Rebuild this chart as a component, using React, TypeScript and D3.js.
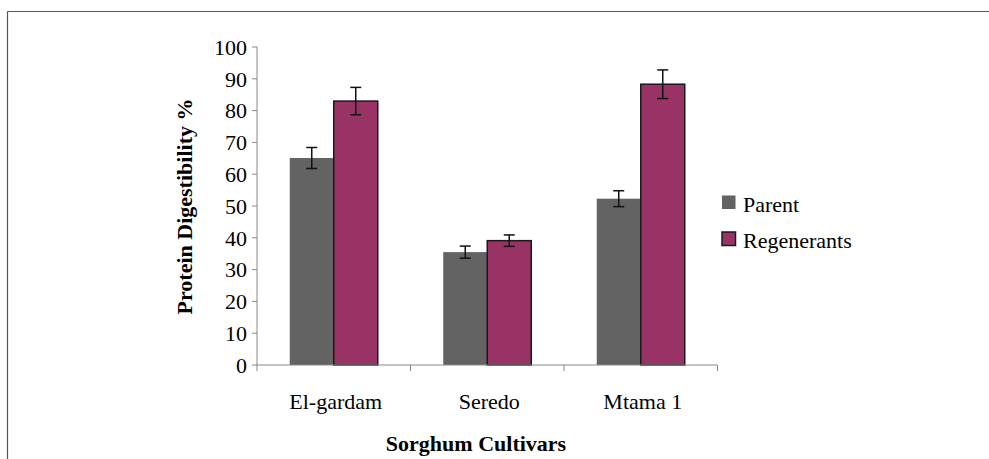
import * as d3 from "d3";

const cultivars = ["El-gardam", "Seredo", "Mtama 1"];
const seriesNames = ["Parent", "Regenerants"];
const parentValues = [65.1, 35.5, 52.3];
const parentErrors = [3.3, 1.9, 2.5];
const regenValues = [83.0, 39.1, 88.3];
const regenErrors = [4.3, 1.8, 4.5];
const yTicks = [0, 10, 20, 30, 40, 50, 60, 70, 80, 90, 100];

const colors = ["#636363", "#993366"];
const font = "'Liberation Serif', 'Times New Roman', serif";

const App = () => {
  const width = 989;
  const height = 459;
  const left = 257;
  const right = 717.5;
  const top = 47;
  const bottom = 365;

  const x = d3.scaleBand<string>().domain(cultivars).range([left, right]).padding(0);
  const xs = d3
    .scaleBand<string>()
    .domain(seriesNames)
    .range([0, x.bandwidth()])
    .paddingInner(0)
    .paddingOuter(0.744);
  const y = d3.scaleLinear().domain([0, 100]).range([bottom, top]);

  const series = [
    { name: seriesNames[0], values: parentValues, errors: parentErrors },
    { name: seriesNames[1], values: regenValues, errors: regenErrors },
  ];

  const boundaries = [...cultivars.map((c) => x(c) as number), right];
  const cap = 5.5;

  return (
    <svg
      width={width}
      height={height}
      style={{ position: "absolute", left: 0, top: 0, background: "#fff", fontFamily: font }}
    >
      {/* frame */}
      <line x1={7.5} x2={width} y1={11.5} y2={11.5} stroke="#555" strokeWidth={1.2} />
      <line x1={7.5} x2={7.5} y1={11.5} y2={height} stroke="#555" strokeWidth={1.2} />

      {/* y axis */}
      <line x1={left} x2={left} y1={top} y2={bottom} stroke="#888" />
      {yTicks.map((t) => (
        <g key={t}>
          <line x1={left - 5} x2={left} y1={y(t)} y2={y(t)} stroke="#888" />
          <text x={left - 10} y={y(t)} dy="0.35em" textAnchor="end" fontSize={22}>
            {t}
          </text>
        </g>
      ))}

      {/* bars */}
      {series.map((s, si) =>
        cultivars.map((c, ci) => {
          const bx = (x(c) as number) + (xs(s.name) as number);
          const v = s.values[ci];
          return (
            <rect
              key={s.name + c}
              x={bx}
              y={y(v)}
              width={xs.bandwidth()}
              height={bottom - y(v)}
              fill={colors[si]}
              stroke={si === 1 ? "#1a1a1a" : "none"}
              strokeWidth={si === 1 ? 1.5 : 0}
            />
          );
        })
      )}

      {/* error bars */}
      {series.map((s) =>
        cultivars.map((c, ci) => {
          const cx = (x(c) as number) + (xs(s.name) as number) + xs.bandwidth() / 2;
          const v = s.values[ci];
          const e = s.errors[ci];
          const y1 = y(v + e);
          const y2 = y(v - e);
          return (
            <g key={"e" + s.name + c} stroke="#111" strokeWidth={1.5}>
              <line x1={cx} x2={cx} y1={y1} y2={y2} />
              <line x1={cx - cap} x2={cx + cap} y1={y1} y2={y1} />
              <line x1={cx - cap} x2={cx + cap} y1={y2} y2={y2} />
            </g>
          );
        })
      )}

      {/* x axis */}
      <line x1={left} x2={right} y1={bottom} y2={bottom} stroke="#888" />
      {boundaries.map((b, i) => (
        <line key={i} x1={b} x2={b} y1={bottom} y2={bottom + 6} stroke="#888" />
      ))}
      {cultivars.map((c) => (
        <text
          key={c}
          x={(x(c) as number) + x.bandwidth() / 2 + 2}
          y={409}
          textAnchor="middle"
          fontSize={22}
        >
          {c}
        </text>
      ))}

      {/* axis titles */}
      <text x={476} y={451} textAnchor="middle" fontSize={22} fontWeight="bold">
        Sorghum Cultivars
      </text>
      <text
        transform={`translate(192, 206.5) rotate(-90)`}
        textAnchor="middle"
        fontSize={22}
        fontWeight="bold"
      >
        Protein Digestibility %
      </text>

      {/* legend */}
      {seriesNames.map((n, i) => (
        <g key={n} transform={`translate(722, ${195.5 + i * 36.5})`}>
          <rect
            width={13.5}
            height={13.5}
            fill={colors[i]}
            stroke={i === 1 ? "#1a1a1a" : "none"}
            strokeWidth={1.5}
          />
          <text x={21} y={16} fontSize={22}>
            {n}
          </text>
        </g>
      ))}
    </svg>
  );
};

export default App;
